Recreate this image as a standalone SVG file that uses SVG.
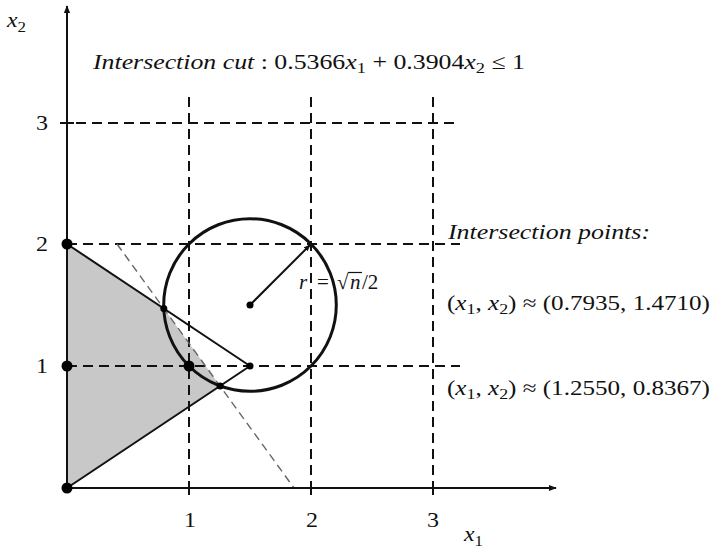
<svg xmlns="http://www.w3.org/2000/svg" width="712" height="552" viewBox="0 0 712 552">
<defs>
<style>
.t{font-family:"Liberation Serif","DejaVu Serif",serif;font-size:21px;fill:#111}
.i{font-style:italic}
.s{font-size:15px}
.grid{stroke:#111;stroke-width:2;stroke-dasharray:10 6;fill:none}
.axis{stroke:#111;stroke-width:2;fill:none}
.solid{stroke:#111;stroke-width:2;fill:none}
.big{fill:#000}
.small{fill:#000}
</style>
<marker id="arr" viewBox="0 0 10 10" refX="9" refY="5" markerWidth="8" markerHeight="8" orient="auto" markerUnits="userSpaceOnUse">
<path d="M0,1 L10,5 L0,9 Z" fill="#111"/>
</marker>
<marker id="arrS" viewBox="0 0 10 10" refX="9" refY="5" markerWidth="7" markerHeight="7" orient="auto" markerUnits="userSpaceOnUse">
<path d="M0,1 L10,5 L0,9 Z" fill="#111"/>
</marker>
</defs>
<rect width="712" height="552" fill="#fff"/>

<g id="feasible-region">
<polygon points="67,488 67,244 163.8,308.5 220.1,385.9" fill="#c8c8c8"/>
</g>

<g id="grid">
<line class="grid" x1="60" y1="123" x2="460" y2="123"/>
<line class="grid" x1="67" y1="244" x2="460" y2="244"/>
<line class="grid" x1="67" y1="366" x2="460" y2="366"/>
<line class="grid" x1="189" y1="97" x2="189" y2="497"/>
<line class="grid" x1="311" y1="97" x2="311" y2="497"/>
<line class="grid" x1="433" y1="97" x2="433" y2="497"/>
</g>

<g id="cut-line">
<line x1="117" y1="244" x2="294" y2="488" stroke="#666" stroke-width="1.4" stroke-dasharray="8 5"/>
</g>

<g id="axes">
<line class="axis" x1="67" y1="488" x2="67" y2="6" marker-end="url(#arr)"/>
<line class="axis" x1="67" y1="488" x2="556" y2="488" marker-end="url(#arr)"/>
<line class="axis" x1="189" y1="481" x2="189" y2="495"/>
<line class="axis" x1="311" y1="481" x2="311" y2="495"/>
<line class="axis" x1="433" y1="481" x2="433" y2="495"/>
<line class="axis" x1="60" y1="123" x2="74" y2="123"/>
</g>

<g id="circle">
<circle cx="250" cy="305" r="86.3" fill="none" stroke="#111" stroke-width="3"/>
</g>

<g id="connectors">
<line class="solid" x1="67" y1="244" x2="250" y2="366"/>
<line class="solid" x1="67" y1="488" x2="250" y2="366"/>
<line class="solid" x1="250" y1="305" x2="310" y2="245" marker-end="url(#arrS)"/>
</g>

<g id="points">
<circle class="big" cx="67" cy="488" r="5.5"/>
<circle class="big" cx="67" cy="366" r="5.5"/>
<circle class="big" cx="67" cy="244" r="5.5"/>
<circle class="big" cx="189" cy="366" r="5.5"/>
<circle class="small" cx="163.8" cy="308.5" r="3.5"/>
<circle class="small" cx="220.1" cy="385.9" r="3.5"/>
<circle class="small" cx="250" cy="366" r="3.5"/>
<circle class="small" cx="250" cy="305" r="3.5"/>
</g>

<g id="labels">
<text class="t" x="7" y="27" textLength="19" lengthAdjust="spacingAndGlyphs"><tspan class="i">x</tspan><tspan class="s" dy="5">2</tspan></text>
<text class="t" x="36" y="130" textLength="12" lengthAdjust="spacingAndGlyphs">3</text>
<text class="t" x="36" y="251" textLength="12" lengthAdjust="spacingAndGlyphs">2</text>
<text class="t" x="36" y="373" textLength="12" lengthAdjust="spacingAndGlyphs">1</text>
<text class="t" x="184" y="527" textLength="12" lengthAdjust="spacingAndGlyphs">1</text>
<text class="t" x="306" y="527" textLength="12" lengthAdjust="spacingAndGlyphs">2</text>
<text class="t" x="427" y="527" textLength="12" lengthAdjust="spacingAndGlyphs">3</text>
<text class="t" x="464" y="541" textLength="19" lengthAdjust="spacingAndGlyphs"><tspan class="i">x</tspan><tspan class="s" dy="5">1</tspan></text>

<text class="t" x="93" y="69" textLength="432" lengthAdjust="spacingAndGlyphs"><tspan class="i">Intersection cut</tspan> : 0.5366<tspan class="i">x</tspan><tspan class="s" dy="4">1</tspan><tspan dy="-4"> + 0.3904</tspan><tspan class="i">x</tspan><tspan class="s" dy="4">2</tspan><tspan dy="-4"> ≤ 1</tspan></text>

<text class="t i" x="448" y="239" textLength="202" lengthAdjust="spacingAndGlyphs">Intersection points:</text>
<text class="t" x="447" y="310" textLength="263" lengthAdjust="spacingAndGlyphs">(<tspan class="i">x</tspan><tspan class="s" dy="4">1</tspan><tspan dy="-4">, </tspan><tspan class="i">x</tspan><tspan class="s" dy="4">2</tspan><tspan dy="-4">) ≈ (0.7935, 1.4710)</tspan></text>
<text class="t" x="447" y="395" textLength="263" lengthAdjust="spacingAndGlyphs">(<tspan class="i">x</tspan><tspan class="s" dy="4">1</tspan><tspan dy="-4">, </tspan><tspan class="i">x</tspan><tspan class="s" dy="4">2</tspan><tspan dy="-4">) ≈ (1.2550, 0.8367)</tspan></text>

<g id="radius-label">
<text class="t" x="299" y="289"><tspan class="i">r</tspan><tspan x="317">=</tspan><tspan x="337">√</tspan><tspan class="i" x="350">n</tspan><tspan x="362">/2</tspan></text>
<line x1="348" y1="272.5" x2="362" y2="272.5" stroke="#111" stroke-width="1.2"/>
</g>
</g>
</svg>
